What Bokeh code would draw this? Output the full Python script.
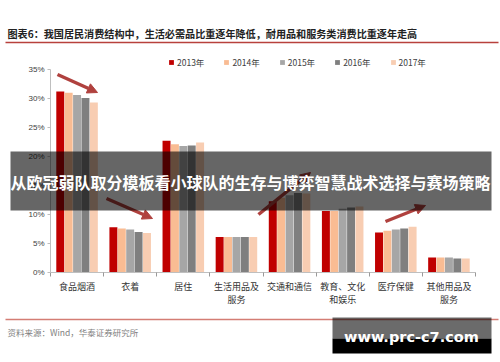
from bokeh.plotting import figure
from bokeh.models import (Range1d, FixedTicker, ColumnDataSource, Legend, LegendItem,
                          Label, BoxAnnotation, Arrow, NormalHead)
from bokeh.transform import dodge
from bokeh.embed import file_html
from bokeh.resources import INLINE

# ---- data ----
categories = ["食品烟酒", "衣着", "居住", "生活用品及\n服务", "交通和通信",
              "教育、文化\n和娱乐", "医疗保健", "其他用品及\n服务"]
years = ["2013年", "2014年", "2015年", "2016年", "2017年"]
y2013 = [31.2, 7.8, 22.7, 6.1, 12.3, 10.6, 6.9, 2.6]
y2014 = [31.0, 7.6, 22.1, 6.1, 12.9, 10.6, 7.2, 2.6]
y2015 = [30.6, 7.4, 21.8, 6.1, 13.3, 11.0, 7.4, 2.6]
y2016 = [30.1, 7.0, 21.9, 6.1, 13.7, 11.2, 7.6, 2.4]
y2017 = [29.3, 6.8, 22.4, 6.1, 13.6, 11.4, 7.9, 2.4]
yticks = [0, 5, 10, 15, 20, 25, 30, 35]
ytick_labels = ["0%", "5%", "10%", "15%", "20%", "25%", "30%", "35%"]
colors = ["#C00000", "#F9BC93", "#A6A6A6", "#7F7F7F", "#F8CDB2"]

title_text = "图表6：我国居民消费结构中，生活必需品比重逐年降低，耐用品和服务类消费比重逐年走高"
source_text = "资料来源：Wind，华泰证券研究所"
banner_text = "从欧冠弱队取分模板看小球队的生存与博弈智慧战术选择与赛场策略"
mark_text = "www.prc-c7.com"

CJK = "Noto Sans CJK SC"
n = len(categories)
idx = list(range(n))
W, H = 500, 362

# chart area in canvas pixels
FL, FR, FT, FB = 50, 475, 69, 272
def FX(px):
    return (px - FL) / ((FR - FL) / n) - 0.5
def FY(py):
    return (FB - py) / ((FB - FT) / 35.0)

p = figure(width=W, height=H, output_backend="svg", toolbar_location=None,
           x_range=Range1d(FX(0), FX(W)), y_range=Range1d(FY(H), FY(0)),
           min_border=0)
p.title.visible = False
p.outline_line_color = None
p.xgrid.visible = False
p.ygrid.visible = False
p.background_fill_color = "white"
p.border_fill_color = "white"

src = ColumnDataSource(dict(x=idx, y2013=y2013, y2014=y2014, y2015=y2015,
                            y2016=y2016, y2017=y2017))
series_cols = ["y2013", "y2014", "y2015", "y2016", "y2017"]
step = 0.158
renderers = []
for j, col in enumerate(series_cols):
    r = p.vbar(x=dodge("x", (j - 2) * step, range=p.x_range), top=col, width=0.15,
               source=src, fill_color=colors[j], line_color=None)
    renderers.append(r)

# axes (drawn at the chart's own origin)
p.yaxis.fixed_location = -0.5
p.yaxis.bounds = (0, 35)
p.yaxis.ticker = FixedTicker(ticks=yticks)
p.yaxis.major_label_overrides = {t: l for t, l in zip(yticks, ytick_labels)}
p.yaxis.axis_line_color = "#BFBFBF"
p.yaxis.major_tick_line_color = "#BFBFBF"
p.yaxis.major_tick_out = 3
p.yaxis.major_tick_in = 0
p.yaxis.minor_tick_line_color = None
p.yaxis.major_label_text_font = "Liberation Sans"
p.yaxis.major_label_text_font_size = "8px"
p.yaxis.major_label_text_color = "#404040"
p.yaxis.major_label_standoff = 3

p.xaxis.fixed_location = 0
p.xaxis.bounds = (-0.5, n - 0.5)
p.xaxis.ticker = FixedTicker(ticks=idx, minor_ticks=[i - 0.5 for i in range(n + 1)])
p.xaxis.major_label_overrides = {i: c for i, c in zip(idx, categories)}
p.xaxis.axis_line_color = "#BFBFBF"
p.xaxis.major_tick_line_color = None
p.xaxis.major_tick_out = 0
p.xaxis.minor_tick_line_color = "#999999"
p.xaxis.minor_tick_out = 4
p.xaxis.minor_tick_in = 0
p.xaxis.major_label_text_font = CJK
p.xaxis.major_label_text_font_size = "9px"
p.xaxis.major_label_text_color = "#333333"
p.xaxis.major_label_standoff = 3
p.xaxis.major_label_text_line_height = 1.05

# legend
legend = Legend(items=[LegendItem(label=years[j], renderers=[renderers[j]]) for j in range(5)],
                orientation="horizontal", location=(168, H - 67.5),
                glyph_width=6, glyph_height=6, label_standoff=3, spacing=19,
                padding=0, margin=0, border_line_color=None, background_fill_alpha=0,
                label_text_font=CJK, label_text_font_size="8.5px",
                label_text_color="#404040", label_height=10)
p.add_layout(legend)

# title & rules
p.add_layout(Label(x=FX(7), y=FY(33), text=title_text, text_font=CJK, text_font_size="10.1px",
                   text_font_style="bold", text_color="#222222", text_baseline="middle"))
p.add_layout(Arrow(end=None, x_start=FX(5), y_start=FY(42), x_end=FX(498), y_end=FY(42),
                   line_color="#B8413C", line_width=1.5))
p.add_layout(Arrow(end=None, x_start=FX(5), y_start=FY(319), x_end=FX(498), y_end=FY(319),
                   line_color="#D47D74", line_width=1.5))
p.add_layout(Label(x=FX(7), y=FY(331), text=source_text, text_font=CJK, text_font_size="8.5px",
                   text_color="#7F7F7F", text_baseline="middle"))

# trend arrows
ac = "#B0413E"
for (x0, y0, x1, y1) in [(57, 74, 97, 92), (106, 198, 152, 218),
                         (258, 214, 310, 172), (385, 221, 425, 205)]:
    p.add_layout(Arrow(end=NormalHead(size=10, fill_color=ac, line_color=ac),
                       x_start=FX(x0), y_start=FY(y0), x_end=FX(x1), y_end=FY(y1),
                       line_color=ac, line_width=3.5))

# banner overlay
p.add_layout(BoxAnnotation(left=FX(10), right=FX(491), top=FY(151), bottom=FY(210),
                           fill_color="black", fill_alpha=0.6, line_color=None))
p.add_layout(Label(x=FX(250), y=FY(181), text=banner_text, text_font=CJK,
                   text_font_size="16px", text_font_style="bold", text_color="white",
                   text_align="center", text_baseline="middle"))

# watermark
p.add_layout(BoxAnnotation(left=FX(332), right=FX(491), top=FY(317), bottom=FY(338),
                           fill_color="black", fill_alpha=0.58, line_color=None))
p.add_layout(BoxAnnotation(left=FX(332), right=FX(491), top=FY(338), bottom=FY(353),
                           fill_color="black", fill_alpha=1.0, line_color=None))
p.add_layout(Label(x=FX(411), y=FY(336), text=mark_text, text_font="DejaVu Sans",
                   text_font_size="14.5px", text_font_style="bold", text_color="white",
                   text_align="center", text_baseline="middle"))

open("out.html", "w").write(file_html(p, INLINE))
